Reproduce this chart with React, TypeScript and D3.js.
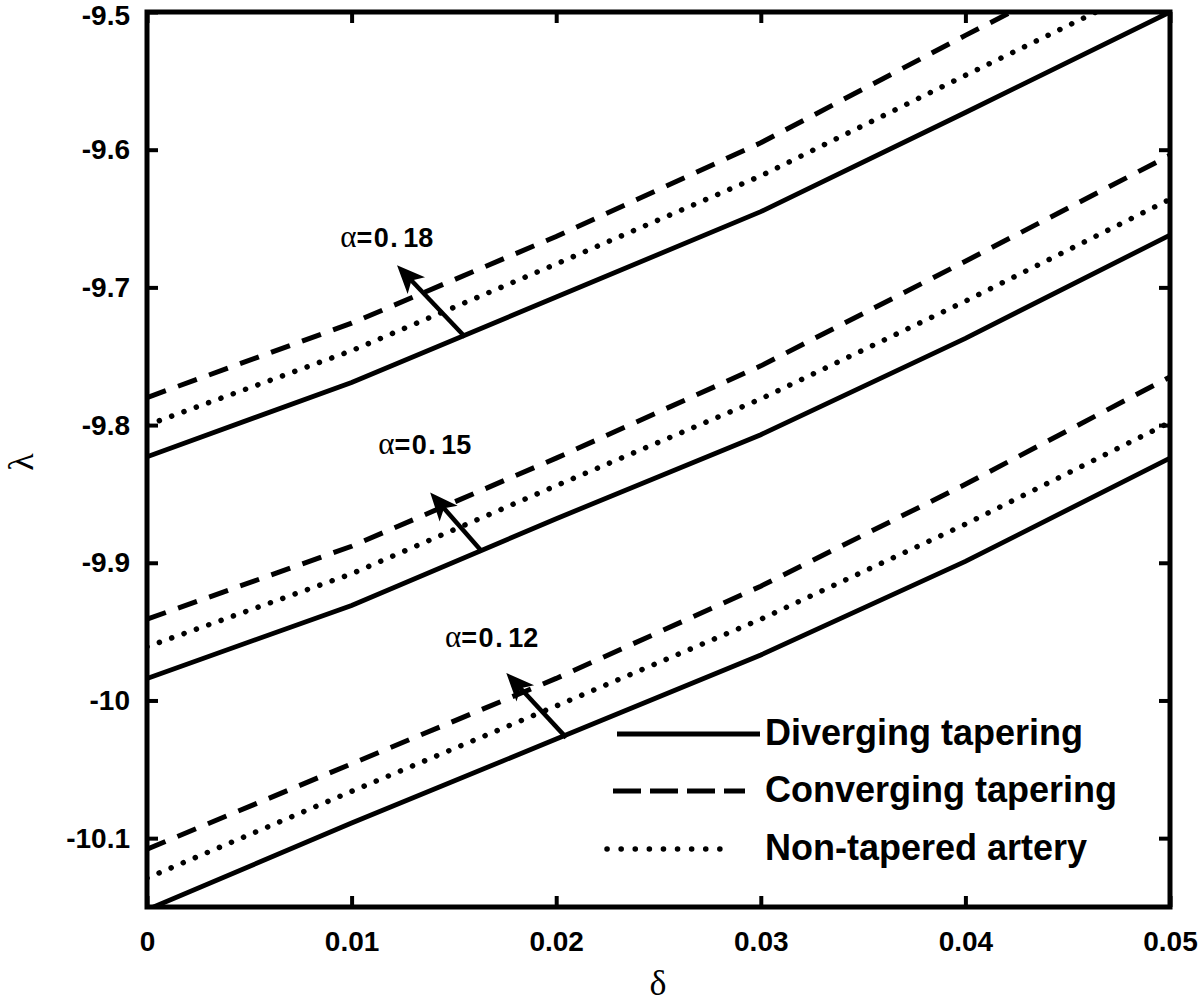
import { useEffect, useRef } from 'react'
import * as d3 from 'd3'

// delta values where the curves were sampled
const deltaValues = [0, 0.01, 0.02, 0.03, 0.04, 0.05]

// lambda for alpha = 0.12
const diverging12 = [-10.152, -10.089, -10.028, -9.967, -9.899, -9.824]
const converging12 = [-10.108, -10.046, -9.984, -9.917, -9.843, -9.765]
const nonTapered12 = [-10.129, -10.066, -10.004, -9.941, -9.872, -9.798]

// lambda for alpha = 0.15
const diverging15 = [-9.984, -9.931, -9.868, -9.807, -9.737, -9.662]
const converging15 = [-9.941, -9.888, -9.824, -9.757, -9.681, -9.604]
const nonTapered15 = [-9.961, -9.908, -9.844, -9.781, -9.71, -9.636]

// lambda for alpha = 0.18
const diverging18 = [-9.823, -9.769, -9.707, -9.645, -9.573, -9.5]
const converging18 = [-9.78, -9.726, -9.663, -9.595, -9.517, -9.441]
const nonTapered18 = [-9.8, -9.746, -9.683, -9.619, -9.546, -9.474]

const xTicks = [0, 0.01, 0.02, 0.03, 0.04, 0.05]
const yTicks = [-10.1, -10, -9.9, -9.8, -9.7, -9.6, -9.5]

const legendLabels = ['Diverging tapering', 'Converging tapering', 'Non-tapered artery']

// alpha annotations: label anchor and arrow (tail on solid curve -> tip)
const alphaLabels = ['0.18', '0.15', '0.12']
const labelDelta = [0.00944, 0.0113, 0.01457]
const labelLambda = [-9.671, -9.821, -9.961]
const arrowTailDelta = [0.01555, 0.01638, 0.02049]
const arrowTailLambda = [-9.736, -9.892, -10.027]
const arrowTipDelta = [0.01222, 0.01384, 0.01756]
const arrowTipLambda = [-9.684, -9.849, -9.98]

type Kind = 'solid' | 'dashed' | 'dotted'

const series: { kind: Kind; values: number[] }[] = [
  { kind: 'solid', values: diverging12 },
  { kind: 'dashed', values: converging12 },
  { kind: 'dotted', values: nonTapered12 },
  { kind: 'solid', values: diverging15 },
  { kind: 'dashed', values: converging15 },
  { kind: 'dotted', values: nonTapered15 },
  { kind: 'solid', values: diverging18 },
  { kind: 'dashed', values: converging18 },
  { kind: 'dotted', values: nonTapered18 },
]

const sans = '"Liberation Sans", Arial, Helvetica, sans-serif'
const serif = '"Liberation Serif", "Times New Roman", serif'

function applyStyle(sel: any, kind: Kind, legend = false) {
  sel.attr('fill', 'none').attr('stroke', '#000')
  if (kind === 'solid') {
    sel.attr('stroke-width', 4.8)
  } else if (kind === 'dashed') {
    sel.attr('stroke-width', 5).attr('stroke-dasharray', legend ? '28,9' : '20,13')
  } else {
    sel.attr('stroke-width', 5.5)
      .attr('stroke-linecap', 'round')
      .attr('stroke-dasharray', legend ? '0.1,14' : '0.1,13')
  }
}

export default function App() {
  const svgRef = useRef<SVGSVGElement>(null)

  useEffect(() => {
    if (!svgRef.current) return
    const svg = d3.select(svgRef.current)
    svg.selectAll('*').remove()

    const left = 147, right = 1170, top = 12, bottom = 907

    const x = d3.scaleLinear().domain([0, 0.05]).range([left, right])
    const y = d3.scaleLinear().domain([-10.15, -9.5]).range([bottom, top])

    svg.append('defs').append('clipPath').attr('id', 'plot-clip')
      .append('rect')
      .attr('x', left).attr('y', top)
      .attr('width', right - left).attr('height', bottom - top)

    const line = d3.line<number>()
      .x((_, i) => x(deltaValues[i]))
      .y(d => y(d))

    const plot = svg.append('g').attr('clip-path', 'url(#plot-clip)')
    series.forEach(s => {
      const p = plot.append('path').datum(s.values).attr('d', line)
      applyStyle(p, s.kind)
    })

    // axes: inward ticks on all four sides
    const fmtX = (d: any) => String(+(+d).toFixed(2))
    const fmtY = (d: any) => String(+(+d).toFixed(1))

    const styleAxis = (g: any) => {
      g.select('.domain').remove()
      g.selectAll('.tick line').attr('stroke', '#000').attr('stroke-width', 4)
      g.selectAll('text')
        .attr('fill', '#000')
        .style('font-family', sans)
        .style('font-weight', 'bold')
        .style('font-size', '28px')
    }

    svg.append('g')
      .attr('transform', `translate(0,${bottom})`)
      .call(d3.axisBottom(x).tickValues(xTicks).tickSize(-11).tickPadding(24).tickFormat(fmtX) as any)
      .call(styleAxis)
    svg.append('g')
      .attr('transform', `translate(0,${top})`)
      .call(d3.axisTop(x).tickValues(xTicks).tickSize(-11).tickFormat(() => '') as any)
      .call(styleAxis)
    const yAxis = svg.append('g')
      .attr('transform', `translate(${left},0)`)
      .call(d3.axisLeft(y).tickValues(yTicks).tickSize(-11).tickPadding(17).tickFormat(fmtY) as any)
      .call(styleAxis)
    // keep the top label inside the picture
    yAxis.selectAll('.tick text').filter((d: any) => d === -9.5).attr('dy', '0.45em')
    svg.append('g')
      .attr('transform', `translate(${right},0)`)
      .call(d3.axisRight(y).tickValues(yTicks).tickSize(-11).tickFormat(() => '') as any)
      .call(styleAxis)

    // frame
    svg.append('rect')
      .attr('x', left).attr('y', top)
      .attr('width', right - left).attr('height', bottom - top)
      .attr('fill', 'none').attr('stroke', '#000').attr('stroke-width', 5)

    // axis titles
    svg.append('text')
      .attr('transform', `translate(33,462) rotate(-90)`)
      .attr('text-anchor', 'middle')
      .style('font-family', serif).style('font-size', '36px')
      .text('λ')
    svg.append('text')
      .attr('x', 658).attr('y', 995)
      .attr('text-anchor', 'middle')
      .style('font-family', serif).style('font-size', '36px')
      .text('δ')

    // alpha annotations
    alphaLabels.forEach((lab, i) => {
      const tx = x(arrowTailDelta[i]), ty = y(arrowTailLambda[i])
      const px = x(arrowTipDelta[i]), py = y(arrowTipLambda[i])
      const len = Math.hypot(px - tx, py - ty)
      const ux = (px - tx) / len, uy = (py - ty) / len
      const nx = -uy, ny = ux
      const L = 28, W = 12
      svg.append('line')
        .attr('x1', tx).attr('y1', ty)
        .attr('x2', px - ux * L * 0.7).attr('y2', py - uy * L * 0.7)
        .attr('stroke', '#000').attr('stroke-width', 4.5)
      const head: [number, number][] = [
        [px, py],
        [px - ux * L + nx * W, py - uy * L + ny * W],
        [px - ux * L * 0.75, py - uy * L * 0.75],
        [px - ux * L - nx * W, py - uy * L - ny * W],
      ]
      svg.append('path')
        .attr('d', 'M' + head.map(p => p.join(',')).join('L') + 'Z')
        .attr('fill', '#000')

      const t = svg.append('text')
        .attr('x', x(labelDelta[i])).attr('y', y(labelLambda[i]))
      t.append('tspan')
        .style('font-family', serif).style('font-size', '31px')
        .text('α')
      t.append('tspan')
        .style('font-family', sans).style('font-weight', 'bold').style('font-size', '27px')
        .style('letter-spacing', '1.5px')
        .text('=0.')
      t.append('tspan')
        .attr('dx', 4)
        .style('font-family', sans).style('font-weight', 'bold').style('font-size', '27px')
        .text(lab.slice(2))
    })

    // legend
    const kinds: Kind[] = ['solid', 'dashed', 'dotted']
    const sampleStart = [617, 613, 607]
    const sampleEnd = [760, 745, 733]
    const rowY = [734, 791, 849]
    legendLabels.forEach((lab, i) => {
      const l = svg.append('line')
        .attr('x1', sampleStart[i]).attr('x2', sampleEnd[i])
        .attr('y1', rowY[i]).attr('y2', rowY[i])
      applyStyle(l, kinds[i], true)
      svg.append('text')
        .attr('x', 765).attr('y', rowY[i] + 11)
        .style('font-family', sans).style('font-weight', 'bold').style('font-size', '36px')
        .text(lab)
    })
  }, [])

  return (
    <svg
      ref={svgRef}
      width={1200}
      height={1006}
      style={{ position: 'absolute', left: 0, top: 0, background: '#fff' }}
    />
  )
}
